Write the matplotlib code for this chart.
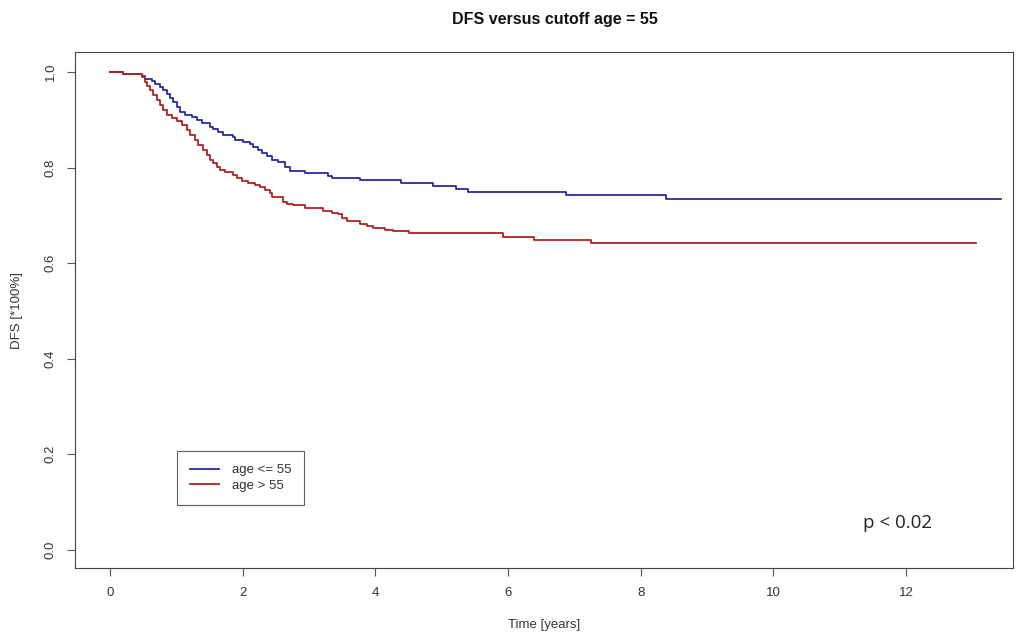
import matplotlib
matplotlib.use("Agg")
import matplotlib.pyplot as plt

# Kaplan-Meier style step data
t_young = [0, 0.196, 0.478, 0.528, 0.629, 0.678, 0.754, 0.804, 0.855, 0.905, 0.954, 1.006,
           1.055, 1.131, 1.232, 1.307, 1.382, 1.508, 1.557, 1.633, 1.708, 1.859, 1.885,
           2.010, 2.111, 2.160, 2.236, 2.287, 2.362, 2.438, 2.537, 2.638, 2.714, 2.940,
           3.291, 3.342, 3.769, 4.38, 4.87, 5.22, 5.40, 6.87, 8.38, 13.43]
s_young = [1.0, 0.997, 0.992, 0.985, 0.982, 0.976, 0.969, 0.962, 0.955, 0.945, 0.937, 0.927,
           0.917, 0.910, 0.907, 0.900, 0.893, 0.886, 0.880, 0.875, 0.869, 0.864, 0.858,
           0.853, 0.849, 0.844, 0.838, 0.831, 0.824, 0.817, 0.812, 0.802, 0.793, 0.788,
           0.783, 0.779, 0.774, 0.767, 0.762, 0.756, 0.750, 0.743, 0.734, 0.734]

t_old = [0, 0.196, 0.478, 0.528, 0.553, 0.603, 0.653, 0.704, 0.754, 0.804, 0.855, 0.930,
         1.006, 1.081, 1.156, 1.206, 1.281, 1.331, 1.407, 1.458, 1.508, 1.557, 1.609, 1.658,
         1.734, 1.859, 1.910, 1.986, 2.085, 2.186, 2.261, 2.337, 2.412, 2.438, 2.604, 2.664,
         2.763, 2.940, 3.216, 3.342, 3.442, 3.493, 3.569, 3.769, 3.870, 3.970, 4.146, 4.271,
         4.51, 5.93, 6.39, 7.25, 13.05]
s_old = [1.0, 0.997, 0.990, 0.980, 0.971, 0.962, 0.952, 0.941, 0.931, 0.921, 0.910, 0.905,
         0.897, 0.889, 0.879, 0.868, 0.858, 0.847, 0.837, 0.826, 0.816, 0.810, 0.802, 0.795,
         0.790, 0.785, 0.778, 0.772, 0.767, 0.764, 0.759, 0.753, 0.746, 0.739, 0.729, 0.725,
         0.721, 0.715, 0.709, 0.706, 0.702, 0.694, 0.688, 0.683, 0.677, 0.673, 0.669, 0.667,
         0.664, 0.654, 0.649, 0.643, 0.643]

labels = ["age <= 55", "age > 55"]
x_ticks = [0, 2, 4, 6, 8, 10, 12]
y_ticks = [0.0, 0.2, 0.4, 0.6, 0.8, 1.0]

plt.rcParams["font.family"] = ["Liberation Sans", "DejaVu Sans"]
txt = "#333333"

fig = plt.figure(figsize=(10.24, 6.35), dpi=100)
ax = fig.add_axes([0.0732, 0.1055, 0.9158, 0.8125])

ax.plot(t_young, s_young, drawstyle="steps-post", color="#2a2aa0", lw=1.3, label=labels[0])
ax.plot(t_old, s_old, drawstyle="steps-post", color="#b02222", lw=1.3, label=labels[1])

ax.set_xlim(-0.53, 13.61)
ax.set_ylim(-0.038, 1.042)
ax.set_xticks(x_ticks)
ax.set_yticks(y_ticks)
ax.set_xticklabels([str(x) for x in x_ticks])
ax.set_yticklabels(["%.1f" % y for y in y_ticks])
ax.tick_params(length=6, width=0.8, color="#555555", labelcolor=txt, labelsize=9.5)
ax.tick_params(axis="x", pad=8)
ax.tick_params(axis="y", pad=7, labelrotation=90)
for lab in ax.get_yticklabels():
    lab.set_va("center")

for sp in ax.spines.values():
    sp.set_color("#444444")

ax.set_xlabel("Time [years]", color=txt, fontsize=9.5, labelpad=14)
ax.set_ylabel("DFS [*100%]", color=txt, fontsize=9.5, labelpad=16)
ax.set_title("DFS versus cutoff age = 55", fontweight="bold", fontsize=11.5,
             color="#111111", pad=20, x=0.512)

leg = ax.legend(loc="lower left", bbox_to_anchor=(0.1087, 0.122), borderaxespad=0,
                fontsize=9.5, frameon=True, fancybox=False, edgecolor="#333333",
                handlelength=2.2, borderpad=1.0, labelspacing=0.25, handletextpad=0.95)
leg.get_frame().set_linewidth(0.8)
for t in leg.get_texts():
    t.set_color(txt)

fig.text(0.843, 0.168, "p < 0.02", fontsize=13.5, family="Open Sans", color="#222222")

fig.savefig("out.png", dpi=100)
